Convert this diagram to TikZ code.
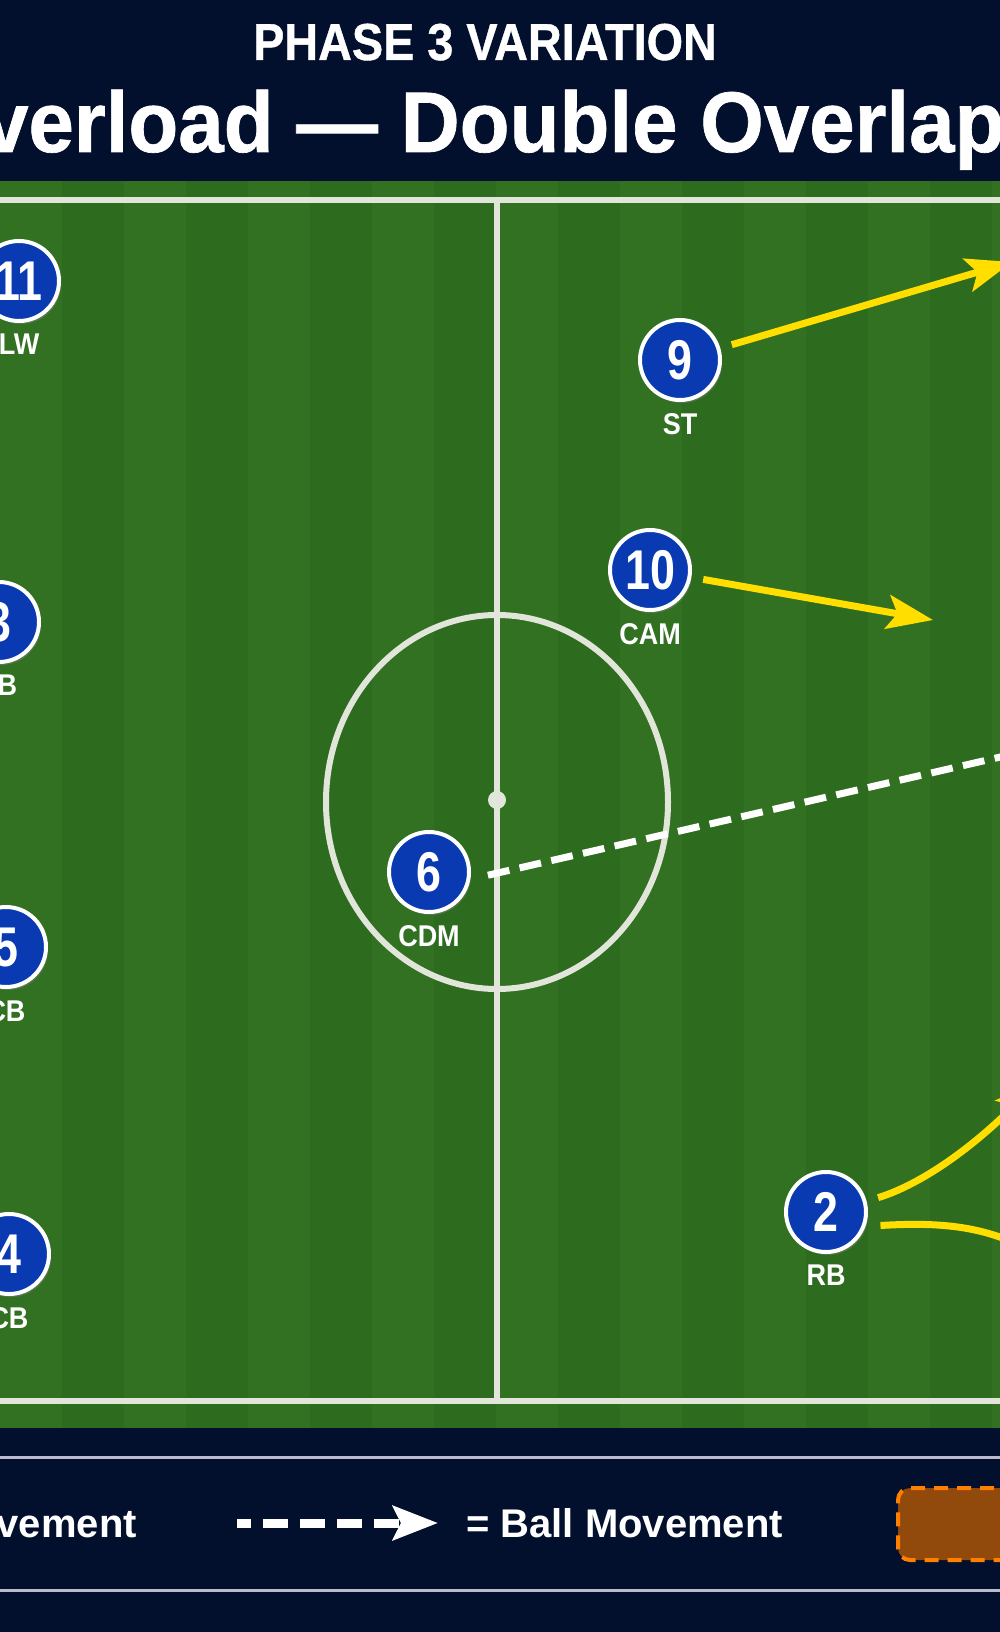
\documentclass[tikz,border=0pt]{standalone}
\usepackage{fontspec}
\setmainfont{Liberation Sans}
\newfontfamily\headFont{Liberation Sans}[FakeStretch=0.9, FakeBold=0.8]
\newfontfamily\titleFont{Liberation Sans}[FakeStretch=0.95, FakeBold=0.8]
\newfontfamily\numFont{Liberation Sans}[FakeStretch=0.8]
\newfontfamily\roleFont{Liberation Sans}[FakeStretch=0.9]
\usetikzlibrary{arrows.meta,positioning,shadows}

\definecolor{navy}{RGB}{2,15,45}
\definecolor{grassA}{RGB}{45,107,30}
\definecolor{grassB}{RGB}{50,113,33}
\definecolor{chalk}{RGB}{226,229,218}
\definecolor{kitBlue}{RGB}{10,58,178}
\definecolor{runYellow}{RGB}{255,222,0}
\definecolor{zoneOrange}{RGB}{255,128,0}
\definecolor{zoneFill}{RGB}{146,74,12}
\definecolor{keyRule}{RGB}{185,187,204}

\newcommand\pitchTop{200}
\newcommand\pitchBottom{1401}
\newcommand\halfway{497}
\newcommand\drawPitch{
  \fill[grassA] (0,181) rectangle (1000,1428);
  \foreach \i in {0,2,...,16} {
    \fill[grassB] (\i*62,181) rectangle ++(62,1247);
  }
  \draw[pitchline] (0,\pitchTop) -- (1000,\pitchTop);
  \draw[pitchline] (0,\pitchBottom) -- (1000,\pitchBottom);
  \draw[pitchline] (\halfway,\pitchTop) -- (\halfway,\pitchBottom);
  \draw[pitchline] (\halfway,802) ellipse [x radius=171, y radius=187];
  \fill[chalk] (\halfway,800) circle (9);
}

\tikzset{
  pitchline/.style={draw=chalk, line width=6pt},
  player/.style={circle, draw=white, line width=4pt, fill=kitBlue, minimum size=80pt,
    inner sep=0pt, text=white, font=\numFont\bfseries\fontsize{56}{56}\selectfont,
    drop shadow={shadow xshift=2pt, shadow yshift=-3pt, opacity=0.45}},
  role/.style={inner sep=0pt, text=white, font=\roleFont\bfseries\fontsize{30}{30}\selectfont},
  run/.style={draw=runYellow, line width=7pt, shorten <=12pt,
    -{Stealth[length=46pt, width=34pt, inset=10pt]}},
  pass/.style={draw=white, line width=7pt, dash pattern=on 22pt off 10.5pt, shorten <=18pt,
    -{Stealth[length=46pt, width=34pt, inset=10pt]}},
  keyarrow/.style={draw=white, line width=9pt, dash pattern=on 25pt off 12pt, dash phase=11pt,
    -{Stealth[length=45pt, width=34pt, inset=8pt]}},
  legend/.style={inner sep=0pt, text=white, font=\bfseries\fontsize{40}{40}\selectfont},
  zone/.style={draw=zoneOrange, fill=zoneFill, line width=4pt, dash pattern=on 14pt off 9pt,
    rounded corners=12pt, inner sep=0pt}
}

\begin{document}
\begin{tikzpicture}[x=1pt, y=-1pt]
    \useasboundingbox (0,0) rectangle (1000,1632);
    \clip (0,0) rectangle (1000,1632);

    \fill[navy] (0,0) rectangle (1000,1632);
    \drawPitch

    \node[anchor=base, text=white, inner sep=0pt,
      font=\headFont\bfseries\fontsize{52}{52}\selectfont] (phase) at (485,60) {PHASE 3 VARIATION};
    \node[anchor=base, text=white, inner sep=0pt,
      font=\titleFont\bfseries\fontsize{86}{86}\selectfont] (title) at (462,152) {Overload — Double Overlap};

    \foreach \n/\x/\y/\role in {11/19/281/LW, 3/-1/622/LB, 5/6/947/CB, 4/9/1254/CB,
                                9/680/360/ST, 10/650/570/CAM, 6/429/872/CDM, 2/826/1212/RB} {
      \node[player] (p\n) at (\x,\y) {\n};
      \node[role, below=11pt of p\n] (r\n) {\role};
    }

    \coordinate (t9) at (1012,262);
    \coordinate (t10) at (933,620);
    \coordinate (t6) at (1100,734);
    \coordinate (t2a) at (1040,1080);
    \coordinate (t2b) at (1070,1275);

    \draw[run] (p9) -- (t9);
    \draw[run] (p10) -- (t10);
    \draw[run] (p2.15) .. controls (910,1188) and (960,1160) .. (t2a);
    \draw[run, shorten <=15pt] (p2.-20) .. controls (940,1222) and (990,1225) .. (t2b);
    \draw[pass] (p6.-10) -- (t6);

    \draw[keyRule, line width=3pt] (0,1457) -- (1000,1457);
    \draw[keyRule, line width=3pt] (0,1590) -- (1000,1590);

    \node[legend, anchor=base east] (runKey) at (137,1537) {Movement};
    \coordinate (keyStart) at (237,1523);
    \coordinate (keyEnd) at (438,1523);
    \draw[keyarrow] (keyStart) -- (keyEnd);
    \node[legend, anchor=base west] (passKey) at (466,1537) {= Ball Movement};
    \node[zone, minimum width=200pt, minimum height=72pt, anchor=north west] (zoneKey) at (896,1486) {};
  \end{tikzpicture}
\end{document}
